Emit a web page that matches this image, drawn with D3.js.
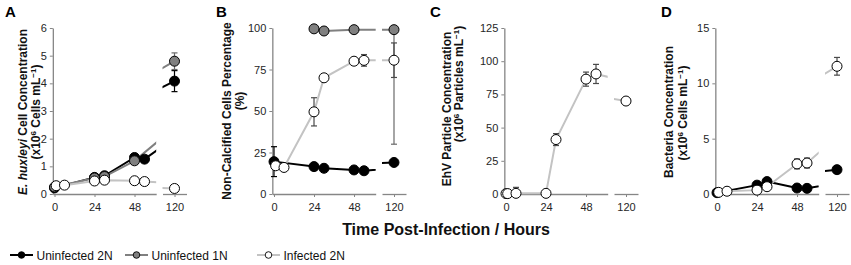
<!DOCTYPE html>
<html><head><meta charset="utf-8">
<script src="https://cdn.jsdelivr.net/npm/d3@7"></script>
<style>
html,body{margin:0;padding:0;background:#fff;}
svg{display:block;font-family:"Liberation Sans",Arial,sans-serif;}
</style></head>
<body>
<svg id="chart" width="851" height="265"></svg>
<script>
// ---------- DATA ----------
const times = [0, 1, 6, 24, 30, 48, 54, 120];
const seriesNames = ["Uninfected 2N", "Uninfected 1N", "Infected 2N"];
const xTickLeft = [0, 24, 48];
const xTickRight = [120];

// Panel A: E. huxleyi cell concentration (x10^6 cells/mL)
const aUninf2N    = [0.22, null, null, 0.60, 0.66, 1.32, 1.26, 4.08];
const aUninf2NErr = [0, 0, 0, 0, 0, 0, 0, 0.38];
const aUninf1N    = [0.25, null, null, 0.58, 0.63, 1.20, null, 4.80];
const aUninf1NErr = [0, 0, 0, 0, 0, 0, 0, 0.30];
const aInf2N      = [null, 0.30, 0.32, 0.47, 0.50, 0.48, 0.45, 0.20];
const aInf2NErr   = [0, 0, 0, 0, 0, 0, 0, 0];
const aYTicks = [0, 1, 2, 3, 4, 5, 6];

// Panel B: non-calcified cells percentage
const bUninf2N    = [19.5, null, null, 16.5, 15.5, 14.5, 14.0, 19.0];
const bUninf2NErr = [9, 0, 0, 0, 0, 0, 0, 0];
const bUninf1N    = [null, null, null, 99.5, 98.2, 99.0, null, 99.0];
const bUninf1NErr = [0, 0, 0, 0, 0, 1.5, 0, 69];
const bInf2N      = [null, 17.0, 16.0, 49.5, 70.0, 80.0, 80.5, 80.6];
const bInf2NErr   = [0, 0, 0, 8.5, 0, 2, 3.5, 10.4];
const bYTicks = [0, 25, 50, 75, 100];

// Panel C: EhV particle concentration (x10^6 particles/mL)
const cInf2N    = [0.3, 0.3, 0.5, 0.5, 41.0, 86.5, 90.4, 70.0];
const cInf2NErr = [0, 0, 4.5, 0, 4.5, 5.3, 7.2, 0];
const cYTicks = [0, 25, 50, 75, 100, 125];

// Panel D: bacteria concentration (x10^6 cells/mL)
const dUninf2N    = [0.12, null, null, 0.80, 1.12, 0.54, 0.51, 2.20];
const dUninf2NErr = [0, 0, 0, 0, 0, 0, 0, 0];
const dInf2N      = [null, 0.15, 0.25, 0.35, 0.66, 2.72, 2.80, 11.54];
const dInf2NErr   = [0, 0, 0, 0, 0, 0.45, 0.45, 0.8];
const dYTicks = [0, 5, 10, 15];

// ---------- STYLE ----------
const styles = {
  "Uninfected 2N": {line: "#000000", fill: "#000000", err: "#000000"},
  "Uninfected 1N": {line: "#808080", fill: "#808080", err: "#6a6a6a"},
  "Infected 2N":   {line: "#c3c3c3", fill: "#ffffff", err: "#4a4a4a"}
};

const panels = [
  {letter: "A", lx: 5, t0x: 54.5, yMax: 6, yTicks: aYTicks,
   series: [{name: "Uninfected 2N", v: aUninf2N, e: aUninf2NErr},
            {name: "Uninfected 1N", v: aUninf1N, e: aUninf1NErr},
            {name: "Infected 2N", v: aInf2N, e: aInf2NErr}],
   titles: [{x: 27, y: 112, parts: [["E. huxleyi", "italic"], [" Cell Concentration", null]]},
            {x: 39.5, y: 112, sup: ["(x10", "6", " Cells mL", "-1", ")"]}]},
  {letter: "B", lx: 216, t0x: 274, yMax: 100, yTicks: bYTicks,
   series: [{name: "Uninfected 2N", v: bUninf2N, e: bUninf2NErr},
            {name: "Uninfected 1N", v: bUninf1N, e: bUninf1NErr},
            {name: "Infected 2N", v: bInf2N, e: bInf2NErr}],
   titles: [{x: 231, y: 111, parts: [["Non-Calcified Cells Percentage", null]]},
            {x: 244, y: 101, parts: [["(%)", null]]}]},
  {letter: "C", lx: 430, t0x: 506, yMax: 125, yTicks: cYTicks,
   series: [{name: "Infected 2N", v: cInf2N, e: cInf2NErr}],
   titles: [{x: 451, y: 109, parts: [["EhV Particle Concentration", null]]},
            {x: 463, y: 84, sup: ["(x10", "6", " Particles mL", "-1", ")"]}]},
  {letter: "D", lx: 661, t0x: 717, yMax: 15, yTicks: dYTicks,
   series: [{name: "Uninfected 2N", v: dUninf2N, e: dUninf2NErr},
            {name: "Infected 2N", v: dInf2N, e: dInf2NErr}],
   titles: [{x: 673, y: 112, parts: [["Bacteria Concentration", null]]},
            {x: 687, y: 113, sup: ["(x10", "6", " Cells mL", "-1", ")"]}]}
];

// ---------- DRAW ----------
const svg = d3.select("#chart");
const yTop = 28, yBot = 194, pxPerHour = 1.667;

panels.forEach((p, pi) => {
  const g = svg.append("g");
  const xl = d3.scaleLinear().domain([-1, 61]).range([p.t0x - pxPerHour, p.t0x + 61 * pxPerHour]);
  const xr = d3.scaleLinear().domain([115, 125]).range([p.t0x + 108, p.t0x + 132]);
  const y = d3.scaleLinear().domain([0, p.yMax]).range([yBot, yTop]);
  const xpos = t => t <= 61 ? xl(t) : xr(t);

  // clip paths
  const defs = svg.append("defs");
  defs.append("clipPath").attr("id", "cl" + pi).append("rect")
    .attr("x", xl(-1) - 10).attr("y", 0).attr("width", xl(61) - xl(-1) + 10).attr("height", 265);
  defs.append("clipPath").attr("id", "cr" + pi).append("rect")
    .attr("x", xr(115)).attr("y", 0).attr("width", xr(125) - xr(115)).attr("height", 265);

  // axes
  const axColor = "#868686";
  const fmt = d3.format("d");
  const yAx = g.append("g").attr("transform", `translate(${xl(-1)},0)`)
    .call(d3.axisLeft(y).tickValues(p.yTicks).tickFormat(fmt).tickSize(3).tickSizeOuter(0).tickPadding(3));
  const xAxL = g.append("g").attr("transform", `translate(0,${yBot})`)
    .call(d3.axisBottom(xl).tickValues(xTickLeft).tickFormat(fmt).tickSize(3).tickSizeOuter(0).tickPadding(6));
  const xAxR = g.append("g").attr("transform", `translate(0,${yBot})`)
    .call(d3.axisBottom(xr).tickValues(xTickRight).tickFormat(fmt).tickSize(3).tickSizeOuter(0).tickPadding(6));
  [yAx, xAxL, xAxR].forEach(a => {
    a.select(".domain").attr("stroke", axColor).attr("stroke-width", 1.3);
    a.selectAll(".tick line").attr("stroke", axColor).attr("stroke-width", 1);
    a.selectAll(".tick text").attr("fill", "#262626").style("font-size", "11px")
      .style("font-family", '"Liberation Sans", Arial, sans-serif');
  });

  // lines (drawn in both sub-plots, clipped)
  p.series.forEach(s => {
    const pts = times.map((t, i) => [t, s.v[i]]).filter(d => d[1] !== null);
    const st = styles[s.name];
    [[xl, "cl"], [xr, "cr"]].forEach(([xs, cid]) => {
      const line = d3.line().x(d => xs(d[0])).y(d => y(d[1]));
      g.append("path").attr("d", line(pts)).attr("fill", "none")
        .attr("stroke", st.line).attr("stroke-width", 2)
        .attr("clip-path", `url(#${cid}${pi})`);
    });
  });

  // error bars
  p.series.forEach(s => {
    const st = styles[s.name];
    times.forEach((t, i) => {
      const v = s.v[i], e = s.e[i];
      if (v === null || !e) return;
      const x = xpos(t);
      const hi = Math.min(v + e, p.yMax), lo = Math.max(v - e, 0);
      g.append("line").attr("x1", x).attr("x2", x).attr("y1", y(hi)).attr("y2", y(lo))
        .attr("stroke", st.err).attr("stroke-width", 1.2);
      if (v + e <= p.yMax) g.append("line").attr("x1", x - 3).attr("x2", x + 3)
        .attr("y1", y(hi)).attr("y2", y(hi)).attr("stroke", st.err).attr("stroke-width", 1.2);
      if (v - e >= 0) g.append("line").attr("x1", x - 3).attr("x2", x + 3)
        .attr("y1", y(lo)).attr("y2", y(lo)).attr("stroke", st.err).attr("stroke-width", 1.2);
    });
  });

  // markers
  p.series.forEach(s => {
    const st = styles[s.name];
    const pts = times.map((t, i) => [t, s.v[i]]).filter(d => d[1] !== null);
    g.selectAll(null).data(pts).enter().append("circle")
      .attr("cx", d => xpos(d[0])).attr("cy", d => y(d[1])).attr("r", 5)
      .attr("fill", st.fill).attr("stroke", "#000").attr("stroke-width", 1);
  });

  // panel letter
  g.append("text").attr("x", p.lx).attr("y", 17).text(p.letter)
    .style("font-size", "15px").style("font-weight", "bold").attr("fill", "#000");

  // axis titles
  p.titles.forEach(tt => {
    const t = g.append("text").attr("transform", `translate(${tt.x},${tt.y}) rotate(-90)`)
      .attr("text-anchor", "middle").style("font-size", "12px").style("font-weight", "bold")
      .attr("fill", "#111");
    if (tt.parts) {
      tt.parts.forEach(([txt, fs]) => {
        const ts = t.append("tspan").text(txt);
        if (fs) ts.style("font-style", fs);
      });
    } else {
      const [a, s1, b, s2, c] = tt.sup;
      t.append("tspan").text(a);
      t.append("tspan").text(s1).attr("dy", -4).style("font-size", "8px");
      t.append("tspan").text(b).attr("dy", 4);
      t.append("tspan").text(s2.replace("-", "\u2212")).attr("dy", -4).style("font-size", "8px");
      t.append("tspan").text(c).attr("dy", 4);
    }
  });
});

// shared x-axis title
svg.append("text").attr("x", 446).attr("y", 235).attr("text-anchor", "middle")
  .style("font-size", "16px").style("font-weight", "bold").attr("fill", "#111")
  .text("Time Post-Infection / Hours");

// legend
const legendX = [10, 125, 257];
const lg = svg.append("g");
seriesNames.forEach((n, i) => {
  const st = styles[n];
  const x0 = legendX[i];
  lg.append("line").attr("x1", x0).attr("x2", x0 + 23).attr("y1", 255).attr("y2", 255)
    .attr("stroke", st.line).attr("stroke-width", 2);
  lg.append("circle").attr("cx", x0 + 11.5).attr("cy", 255).attr("r", 3.3)
    .attr("fill", st.fill).attr("stroke", "#000").attr("stroke-width", 0.9);
  lg.append("text").attr("x", x0 + 26.5).attr("y", 259.5).text(n)
    .style("font-size", "12px").attr("fill", "#111");
});
</script>
</body></html>
